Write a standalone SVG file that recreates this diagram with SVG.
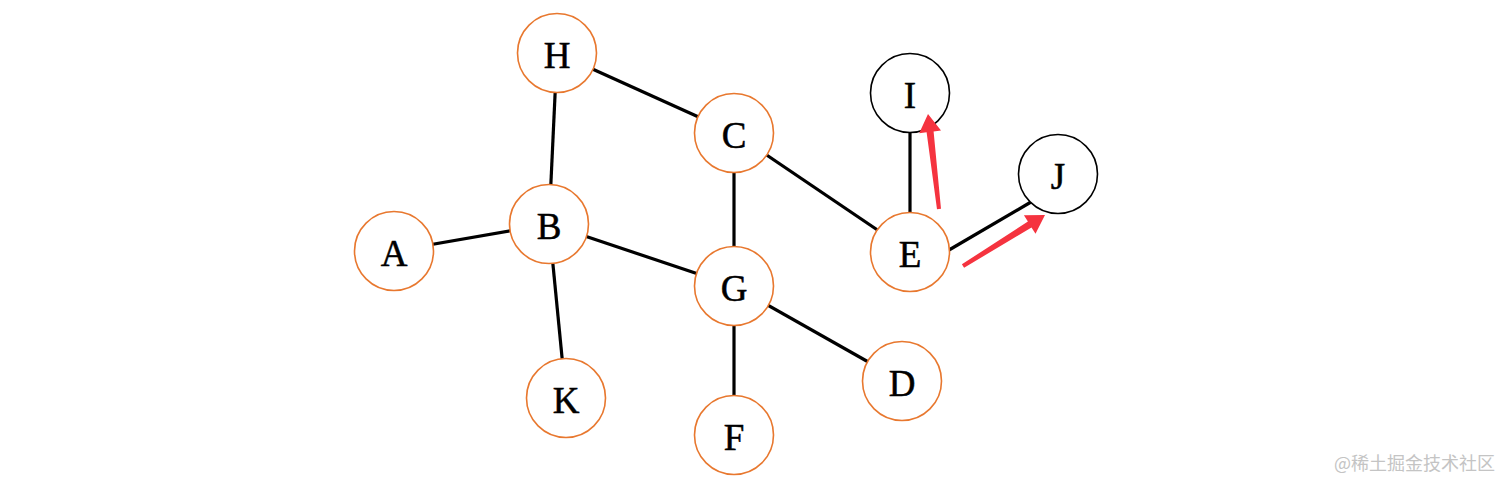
<svg xmlns="http://www.w3.org/2000/svg" width="1512" height="490" viewBox="0 0 1512 490">
<style>
.edge{stroke:#000;stroke-width:3.2;fill:none}
.n circle{fill:#fff;stroke:#e8782f;stroke-width:1.6}
.n.k circle{stroke:#000}
.n text{font-family:"Liberation Serif","DejaVu Serif",serif;font-size:37px;fill:#000;stroke:#000;stroke-width:0.5;text-anchor:middle;dominant-baseline:central}
.red{fill:#f5333f}
.wm{font-family:"Noto Sans CJK SC","Noto Sans",sans-serif;font-size:18px;fill:#c4c4c4}
</style>
<rect width="1512" height="490" fill="#fff"/>
<g id="connectors">
<line class="edge" x1="557" y1="53" x2="734" y2="133"/>
<line class="edge" x1="557" y1="53" x2="549" y2="224"/>
<line class="edge" x1="394" y1="251" x2="549" y2="224"/>
<line class="edge" x1="549" y1="224" x2="566" y2="398"/>
<line class="edge" x1="549" y1="224" x2="734" y2="286"/>
<line class="edge" x1="734" y1="133" x2="734" y2="286"/>
<line class="edge" x1="734" y1="133" x2="910" y2="252"/>
<line class="edge" x1="734" y1="286" x2="902" y2="381"/>
<line class="edge" x1="734" y1="286" x2="734" y2="435"/>
<line class="edge" x1="910" y1="252" x2="910" y2="93"/>
<line class="edge" x1="949" y1="250" x2="1031" y2="202"/>
</g>
<g id="node-H" class="n"><circle cx="557" cy="53" r="39.5"/><text x="557" y="55">H</text></g>
<g id="node-C" class="n"><circle cx="734" cy="133" r="39.5"/><text x="734" y="135">C</text></g>
<g id="node-B" class="n"><circle cx="549" cy="224" r="39.5"/><text x="549" y="226">B</text></g>
<g id="node-A" class="n"><circle cx="394" cy="251" r="39.5"/><text x="394" y="253">A</text></g>
<g id="node-K" class="n"><circle cx="566" cy="398" r="39.5"/><text x="566" y="400">K</text></g>
<g id="node-G" class="n"><circle cx="734" cy="286" r="39.5"/><text x="734" y="288">G</text></g>
<g id="node-F" class="n"><circle cx="734" cy="435" r="39.5"/><text x="734" y="437">F</text></g>
<g id="node-D" class="n"><circle cx="902" cy="381" r="39.5"/><text x="902" y="383">D</text></g>
<g id="node-E" class="n"><circle cx="910" cy="252" r="39.5"/><text x="910" y="254">E</text></g>
<g id="node-I" class="n k"><circle cx="910" cy="93" r="39.5"/><text x="910" y="95">I</text></g>
<g id="node-J" class="n k"><circle cx="1058" cy="174" r="39.5"/><text x="1058" y="176">J</text></g>
<g id="arrows">
<polygon class="red" points="937.0,209.2 926.6,132.3 919.2,133.2 928,114 941.0,130.6 933.6,131.5 941.0,208.8"/>
<polygon class="red" points="961.9,264.3 1027.9,221.5 1023.9,215.2 1045,215 1035.5,233.8 1031.5,227.5 964.1,267.7"/>
</g>
<text class="wm" x="1334" y="470">@稀土掘金技术社区</text>
</svg>
